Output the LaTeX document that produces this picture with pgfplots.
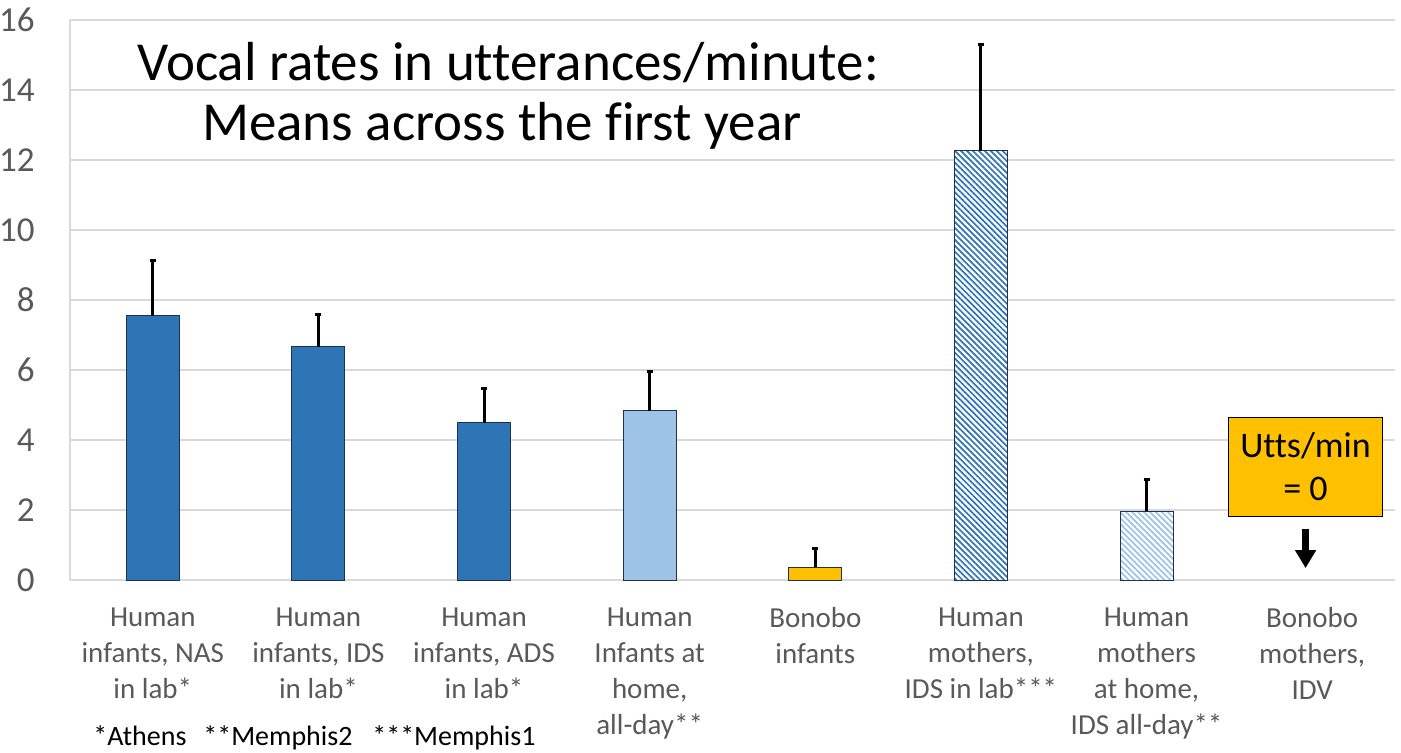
\documentclass[border=0pt]{standalone}
\usepackage{fontspec}
\setmainfont{Carlito}[Ligatures=NoCommon]
\usepackage{pgfplots}
\pgfplotsset{compat=1.18}
\usetikzlibrary{patterns.meta,arrows.meta}
\definecolor{dblue}{HTML}{2E75B6}
\definecolor{lblue}{HTML}{9DC3E6}
\definecolor{gold}{HTML}{FFC000}
\definecolor{tickgray}{HTML}{595959}
\definecolor{gridgray}{HTML}{D9D9D9}
\definecolor{edge}{HTML}{1F3050}
\begin{document}
\begin{tikzpicture}
\useasboundingbox (0,0) rectangle (700.5pt,376pt);
\begin{axis}[
  at={(35pt,86pt)}, anchor=south west,
  scale only axis, width=662.5pt, height=280pt,
  xmin=-0.5, xmax=7.5, ymin=0, ymax=16,
  ytick={0,2,...,16},
  xtick={0,...,7},
  xticklabels={{Human\\infants, NAS\\in lab*},{Human\\infants, IDS\\in lab*},{Human\\infants, ADS\\in lab*},{Human\\Infants at\\home,\\all-day**},{Bonobo\\infants},{Human\\mothers,\\IDS in lab***},{Human\\mothers\\at home,\\IDS all-day**},{Bonobo\\mothers,\\IDV}},
  ymajorgrids, major grid style={gridgray, line width=0.75pt},
  axis lines=left, axis line style={-, gridgray, line width=0.75pt},
  major tick length=0pt, tick style={draw=none},
  /pgf/number format/assume math mode=true,
  yticklabel style={font=\fontsize{17.5}{18}\selectfont, text=tickgray, anchor=east, inner sep=0pt, xshift=-17.5pt},
  xticklabel style={font=\fontsize{14.5}{18}\selectfont, text=tickgray, align=center, anchor=north, inner sep=0pt, yshift=-13.5pt},
  clip=false,
]
\addplot[ybar, bar width=26.5pt, bar shift=0pt, fill=dblue, draw=edge, line width=0.5pt,
  error bars/.cd, y dir=plus, y explicit,
  error bar style={black, line width=1.5pt},
  error mark options={rotate=90, black, mark size=1.5pt, line width=1.5pt}]
  coordinates {(0,7.55) +- (0,1.59) (1,6.66) +- (0,0.94) (2,4.49) +- (0,0.97)};
\addplot[ybar, bar width=26.5pt, bar shift=0pt, fill=lblue, draw=edge, line width=0.5pt,
  error bars/.cd, y dir=plus, y explicit,
  error bar style={black, line width=1.5pt},
  error mark options={rotate=90, black, mark size=1.5pt, line width=1.5pt}]
  coordinates {(3,4.83) +- (0,1.14)};
\addplot[ybar, bar width=26.5pt, bar shift=0pt, fill=gold, draw=edge, line width=0.5pt,
  error bars/.cd, y dir=plus, y explicit,
  error bar style={black, line width=1.5pt},
  error mark options={rotate=90, black, mark size=1.5pt, line width=1.5pt}]
  coordinates {(4,0.37) +- (0,0.52)};
\addplot[ybar, bar width=26.5pt, bar shift=0pt, fill=white, postaction={pattern={Lines[angle=-45, distance=2.1pt, line width=0.85pt]}, pattern color=dblue}, draw=edge, line width=0.5pt,
  error bars/.cd, y dir=plus, y explicit,
  error bar style={black, line width=1.5pt},
  error mark options={rotate=90, black, mark size=1.5pt, line width=1.5pt}]
  coordinates {(5,12.26) +- (0,3.03)};
\addplot[ybar, bar width=26.5pt, bar shift=0pt, fill=white, postaction={pattern={Lines[angle=-45, distance=2.1pt, line width=0.85pt]}, pattern color=lblue}, draw=edge, line width=0.5pt,
  error bars/.cd, y dir=plus, y explicit,
  error bar style={black, line width=1.5pt},
  error mark options={rotate=90, black, mark size=1.5pt, line width=1.5pt}]
  coordinates {(6,1.97) +- (0,0.89)};
\node[fill=gold, draw=black, line width=0.5pt, minimum width=77pt, minimum height=49.5pt, align=center, inner sep=0pt, font=\fontsize{18}{21.5}\selectfont] at (axis cs:6.96,3.24) {Utts/min\\= 0};
\draw[line width=3.5pt, -{Triangle[width=10pt,length=9pt]}] (axis cs:6.96,1.46) -- (axis cs:6.96,0.34);
\end{axis}
\node[anchor=base, font=\fontsize{27.5}{30}\selectfont] at (254pt,336pt) {Vocal rates in utterances/minute:};
\node[anchor=base, font=\fontsize{27.5}{30}\selectfont] at (251pt,306pt) {Means across the first year};
\node[anchor=base west, inner sep=0pt, font=\fontsize{14}{18}\selectfont] at (46.5pt,3.5pt) {*Athens};
\node[anchor=base west, inner sep=0pt, font=\fontsize{14}{18}\selectfont] at (101.5pt,3.5pt) {**Memphis2};
\node[anchor=base west, inner sep=0pt, font=\fontsize{14}{18}\selectfont] at (186pt,3.5pt) {***Memphis1};
\end{tikzpicture}
\end{document}
